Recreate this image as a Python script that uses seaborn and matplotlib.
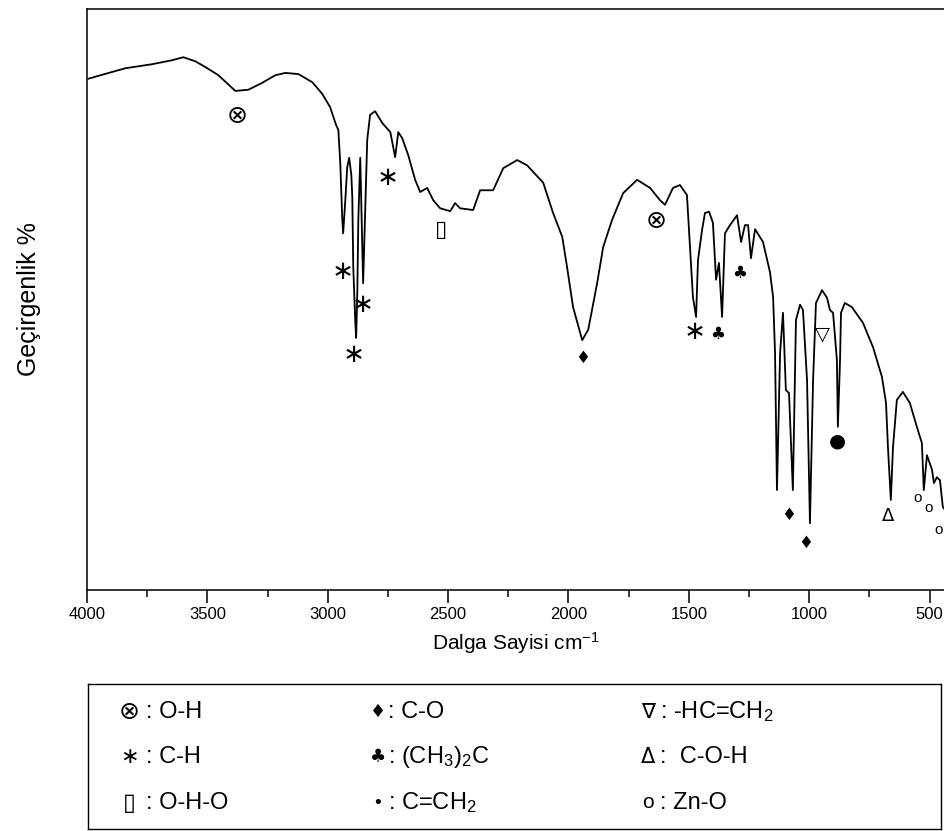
import matplotlib
matplotlib.use("Agg")
import matplotlib.pyplot as plt
import seaborn as sns
import pandas as pd
from matplotlib.ticker import MultipleLocator

# ---- data ----
wavenumber = [3994, 3944, 3841, 3729, 3645, 3600, 3550, 3508, 3454, 3384, 3330, 3272,
              3218, 3176, 3122, 3064, 3023, 2990, 2965, 2956, 2948, 2940, 2936, 2927,
              2919, 2911, 2902, 2898, 2894, 2886, 2882, 2877, 2873, 2865, 2861, 2853,
              2848, 2836, 2824, 2803, 2774, 2740, 2720, 2707, 2691, 2666, 2637, 2616,
              2587, 2562, 2533, 2491, 2471, 2450, 2396, 2367, 2313, 2271, 2213, 2172,
              2105, 2064, 2026, 2006, 1981, 1943, 1918, 1881, 1856, 1819, 1773, 1715,
              1661, 1620, 1599, 1566, 1537, 1508, 1495, 1483, 1470, 1462, 1445, 1433,
              1416, 1400, 1387, 1375, 1362, 1350, 1329, 1300, 1283, 1267, 1254, 1242,
              1225, 1192, 1163, 1150, 1142, 1134, 1121, 1109, 1097, 1084, 1068, 1055,
              1038, 1026, 1009, 997, 984, 972, 947, 926, 914, 901, 885, 881, 872, 868,
              852, 823, 777, 735, 698, 681, 673, 661, 652, 636, 611, 582, 553, 532,
              524, 511, 490, 482, 470, 457, 445, 436]
transmittance = [88.0, 88.6, 89.8, 90.5, 91.2, 91.7, 91.0, 90.0, 88.6, 85.9, 86.1, 87.3,
                 88.6, 89.0, 88.8, 87.4, 85.4, 83.1, 80.0, 79.2, 73.5, 64.2, 61.4, 67.1,
                 72.8, 74.4, 71.4, 67.6, 55.6, 46.5, 43.4, 51.6, 63.7, 74.4, 67.1, 52.8,
                 60.2, 77.5, 81.8, 82.4, 80.4, 78.8, 74.5, 78.8, 77.8, 74.9, 70.6, 68.5,
                 69.2, 67.1, 65.7, 65.2, 66.6, 65.7, 65.4, 68.8, 68.8, 72.6, 74.0, 73.1,
                 70.1, 64.9, 60.8, 55.6, 48.7, 43.0, 44.8, 52.8, 59.0, 63.7, 68.3, 70.6,
                 69.2, 67.1, 66.3, 69.2, 69.7, 68.0, 59.0, 50.4, 47.0, 56.8, 62.0, 64.9,
                 65.1, 63.2, 53.4, 56.3, 47.0, 61.4, 62.8, 64.5, 59.9, 62.8, 62.8, 57.1,
                 62.1, 59.9, 54.7, 50.4, 40.8, 17.2, 40.8, 47.7, 34.4, 33.9, 17.2, 46.5,
                 49.1, 48.2, 36.1, 11.5, 36.1, 49.4, 51.6, 50.3, 48.2, 47.7, 39.6, 28.1,
                 39.6, 47.7, 49.4, 48.7, 46.0, 41.8, 36.7, 32.2, 24.6, 15.5, 24.6, 32.7,
                 34.1, 32.2, 28.1, 25.3, 17.2, 23.2, 20.7, 18.4, 19.4, 18.9, 14.3, 13.8]

# peak annotation symbols
ann_symbols = ["⊗", "⊗", "∗", "∗", "∗", "∗", "∗", "▯", "♦", "♦", "♦",
               "♣", "♣", "▽", "●", "Δ", "o", "o", "o"]
ann_wn = [3376, 1636, 2936, 2853, 2894, 2749, 1474, 2529, 1943, 1084, 1014,
          1288, 1379, 947, 881, 673, 549, 503, 461]
ann_t = [81.6, 63.5, 54.7, 49.1, 40.4, 70.9, 44.4, 62.0, 39.9, 12.9, 8.1,
         54.6, 44.1, 44.1, 25.6, 12.7, 15.8, 14.1, 10.3]

# legend key
key_symbols = ["⊗", "∗", "▯", "♦", "♣", "•", "∇", "Δ", "o"]
key_labels = [": O-H", ": C-H", ": O-H-O", ": C-O", ": (CH$_3$)$_2$C", ": C=CH$_2$",
              ": -HC=CH$_2$", ":  C-O-H", ": Zn-O"]

xticks = [4000, 3500, 3000, 2500, 2000, 1500, 1000, 500]

# ---- style ----
plt.rcParams["font.family"] = ["Liberation Sans", "DejaVu Sans"]
plt.rcParams["mathtext.fontset"] = "custom"
plt.rcParams["mathtext.rm"] = "Liberation Sans"
plt.rcParams["mathtext.default"] = "rm"

fig = plt.figure(figsize=(9.45, 8.31), dpi=100)
W, H = 945, 831
ax = fig.add_axes([87 / W, 1 - 590 / H, 1 - 87 / W, (590 - 9) / H])

df = pd.DataFrame({"wn": wavenumber, "T": transmittance})
sns.lineplot(data=df, x="wn", y="T", ax=ax, sort=False, estimator=None,
             color="black", linewidth=1.3)

ann_size = {"⊗": 18, "∗": 19, "▯": 16, "♦": 12, "♣": 12, "▽": 14, "●": 14,
            "Δ": 13, "o": 11}
for s, xw, yt in zip(ann_symbols, ann_wn, ann_t):
    ax.text(xw, yt, s, ha="center", va="center", fontsize=ann_size[s], color="black",
            family=["DejaVu Sans"] if s != "o" else ["Liberation Sans"])

ax.set_xlim(4000, 436)
ax.set_ylim(0, 100)
ax.set_xticks(xticks)
ax.xaxis.set_minor_locator(MultipleLocator(250))
ax.set_yticks([])
ax.tick_params(axis="x", which="major", direction="out", length=9, width=1.1,
               labelsize=12, pad=3)
ax.tick_params(axis="x", which="minor", direction="out", length=5, width=1.1)
for side in ["left", "top", "bottom"]:
    ax.spines[side].set_linewidth(1.1)
    ax.spines[side].set_color("black")
ax.spines["right"].set_visible(False)
ax.set_xlabel("Dalga Sayisi cm$^{-1}$", fontsize=15, labelpad=6)
ax.set_ylabel("Geçirgenlik %", fontsize=18, labelpad=33)

# ---- legend box ----
lg = fig.add_axes([88 / W, 1 - 829 / H, (941 - 88) / W, (829 - 684) / H])
lg.set_xticks([])
lg.set_yticks([])
for sp in lg.spines.values():
    sp.set_linewidth(1.0)
    sp.set_color("black")

col_sym_x = [129, 378, 648]
col_txt_x = [146, 388, 660]
row_y = [712, 757, 803]
leg_size = {"⊗": 18, "∗": 16, "▯": 17, "♦": 13, "♣": 13, "•": 13, "∇": 15,
            "Δ": 15, "o": 15}
for i, (s, lab) in enumerate(zip(key_symbols, key_labels)):
    c, r = divmod(i, 3)
    fig.text(col_sym_x[c] / W, 1 - row_y[r] / H, s, ha="center", va="center",
             fontsize=leg_size[s],
             family=["DejaVu Sans"] if s != "o" else ["Liberation Sans"])
    fig.text(col_txt_x[c] / W, 1 - row_y[r] / H, lab, ha="left", va="center",
             fontsize=17)

fig.savefig("out.png", dpi=100)
